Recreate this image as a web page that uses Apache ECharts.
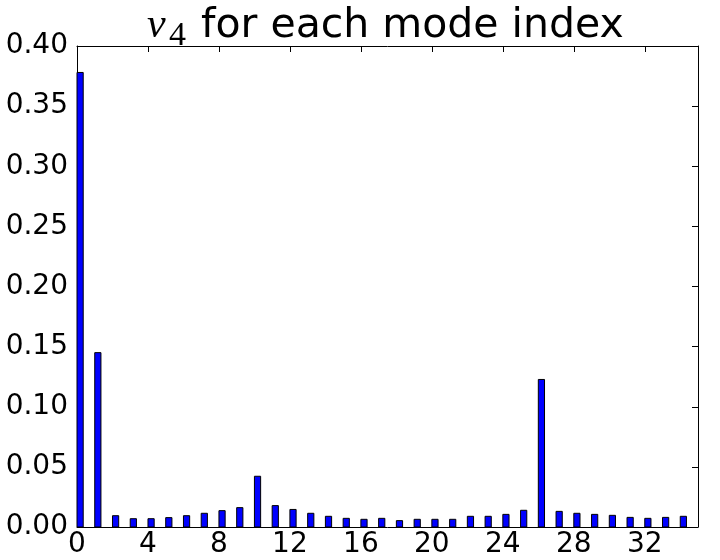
<!DOCTYPE html>
<html lang="en">
<head>
<meta charset="utf-8">
<title>nu4 per mode</title>
<script src="https://cdn.jsdelivr.net/npm/echarts@6/dist/echarts.min.js"></script>
<style>
  html, body { margin: 0; padding: 0; background: #fff; }
  #chart { width: 720px; height: 560px; }
</style>
</head>
<body>
<div id="chart"></div>
<script>
// mode index 0..34 and the nu_4 value of each
var modeIndex = [0,1,2,3,4,5,6,7,8,9,10,11,12,13,14,15,16,17,18,19,20,21,22,23,24,25,26,27,28,29,30,31,32,33,34];
var nu4 = [0.378, 0.145, 0.0094, 0.0069, 0.0069, 0.0078, 0.0094, 0.0114, 0.0136, 0.0161,
           0.0422, 0.0178, 0.0146, 0.0114, 0.0089, 0.0072, 0.0064, 0.0072, 0.0053, 0.0064,
           0.0064, 0.0064, 0.0089, 0.0089, 0.0105, 0.0139, 0.1227, 0.0130, 0.0114, 0.0105,
           0.0097, 0.0080, 0.0072, 0.0080, 0.0089];
var xTicks = [0, 4, 8, 12, 16, 20, 24, 28, 32];
var barWidth = 0.35; // matplotlib default, left edge on the index

var chart = echarts.init(document.getElementById('chart'));
var font = 'DejaVu Sans';

var option = {
  animation: false,
  backgroundColor: '#fff',
  title: {
    left: 196,
    top: -9,
    text: 'for each mode index',
    textStyle: { fontFamily: font, fontWeight: 'normal', fontSize: 41, lineHeight: 60, color: '#000' }
  },
  // math part of the title: nu with subscript 4
  graphic: [
    { type: 'text', left: 147, top: 5,
      style: { text: 'ν', font: 'italic 42px "Liberation Serif"', fill: '#000' } },
    { type: 'text', left: 169, top: 19,
      style: { text: '4', font: '34px "Liberation Serif"', fill: '#000' } }
  ],
  grid: { left: 77, right: 22, top: 46, bottom: 33 },
  xAxis: [{
    type: 'value', min: 0, max: 35, interval: 4,
    axisLine: { show: true, onZero: false, lineStyle: { color: '#000', width: 1 } },
    axisTick: { show: true, inside: true, length: 6, lineStyle: { color: '#000' } },
    axisLabel: {
      showMaxLabel: false, fontFamily: font, fontSize: 28, color: '#000', margin: 4,
      formatter: function (v) { return xTicks.indexOf(v) >= 0 ? String(v) : ''; }
    },
    splitLine: { show: false }
  }, {
    type: 'value', position: 'top', min: 0, max: 35, interval: 4,
    axisLine: { show: true, onZero: false, lineStyle: { color: '#000', width: 1 } },
    axisTick: { show: true, inside: true, length: 6, lineStyle: { color: '#000' } },
    axisLabel: { show: false },
    splitLine: { show: false }
  }],
  yAxis: [{
    type: 'value', min: 0, max: 0.4, interval: 0.05,
    axisLine: { show: true, onZero: false, lineStyle: { color: '#000', width: 1 } },
    axisTick: { show: true, inside: true, length: 6, lineStyle: { color: '#000' } },
    axisLabel: {
      fontFamily: font, fontSize: 28, color: '#000', margin: 9,
      formatter: function (v) { return v.toFixed(2); }
    },
    splitLine: { show: false }
  }, {
    type: 'value', position: 'right', min: 0, max: 0.4, interval: 0.05,
    axisLine: { show: true, onZero: false, lineStyle: { color: '#000', width: 1 } },
    axisTick: { show: true, inside: true, length: 6, lineStyle: { color: '#000' } },
    axisLabel: { show: false },
    splitLine: { show: false }
  }],
  series: [{
    type: 'custom',
    name: 'nu4',
    xAxisIndex: 0,
    yAxisIndex: 0,
    data: modeIndex.map(function (m, i) { return [m, nu4[i]]; }),
    renderItem: function (params, api) {
      var x = api.value(0), y = api.value(1);
      var p0 = api.coord([x, y]);
      var p1 = api.coord([x + barWidth, 0]);
      return {
        type: 'rect',
        shape: { x: p0[0], y: p0[1], width: p1[0] - p0[0], height: p1[1] - p0[1] },
        style: { fill: '#0000ff', stroke: '#000', lineWidth: 1 }
      };
    }
  }]
};
chart.setOption(option);
</script>
</body>
</html>
